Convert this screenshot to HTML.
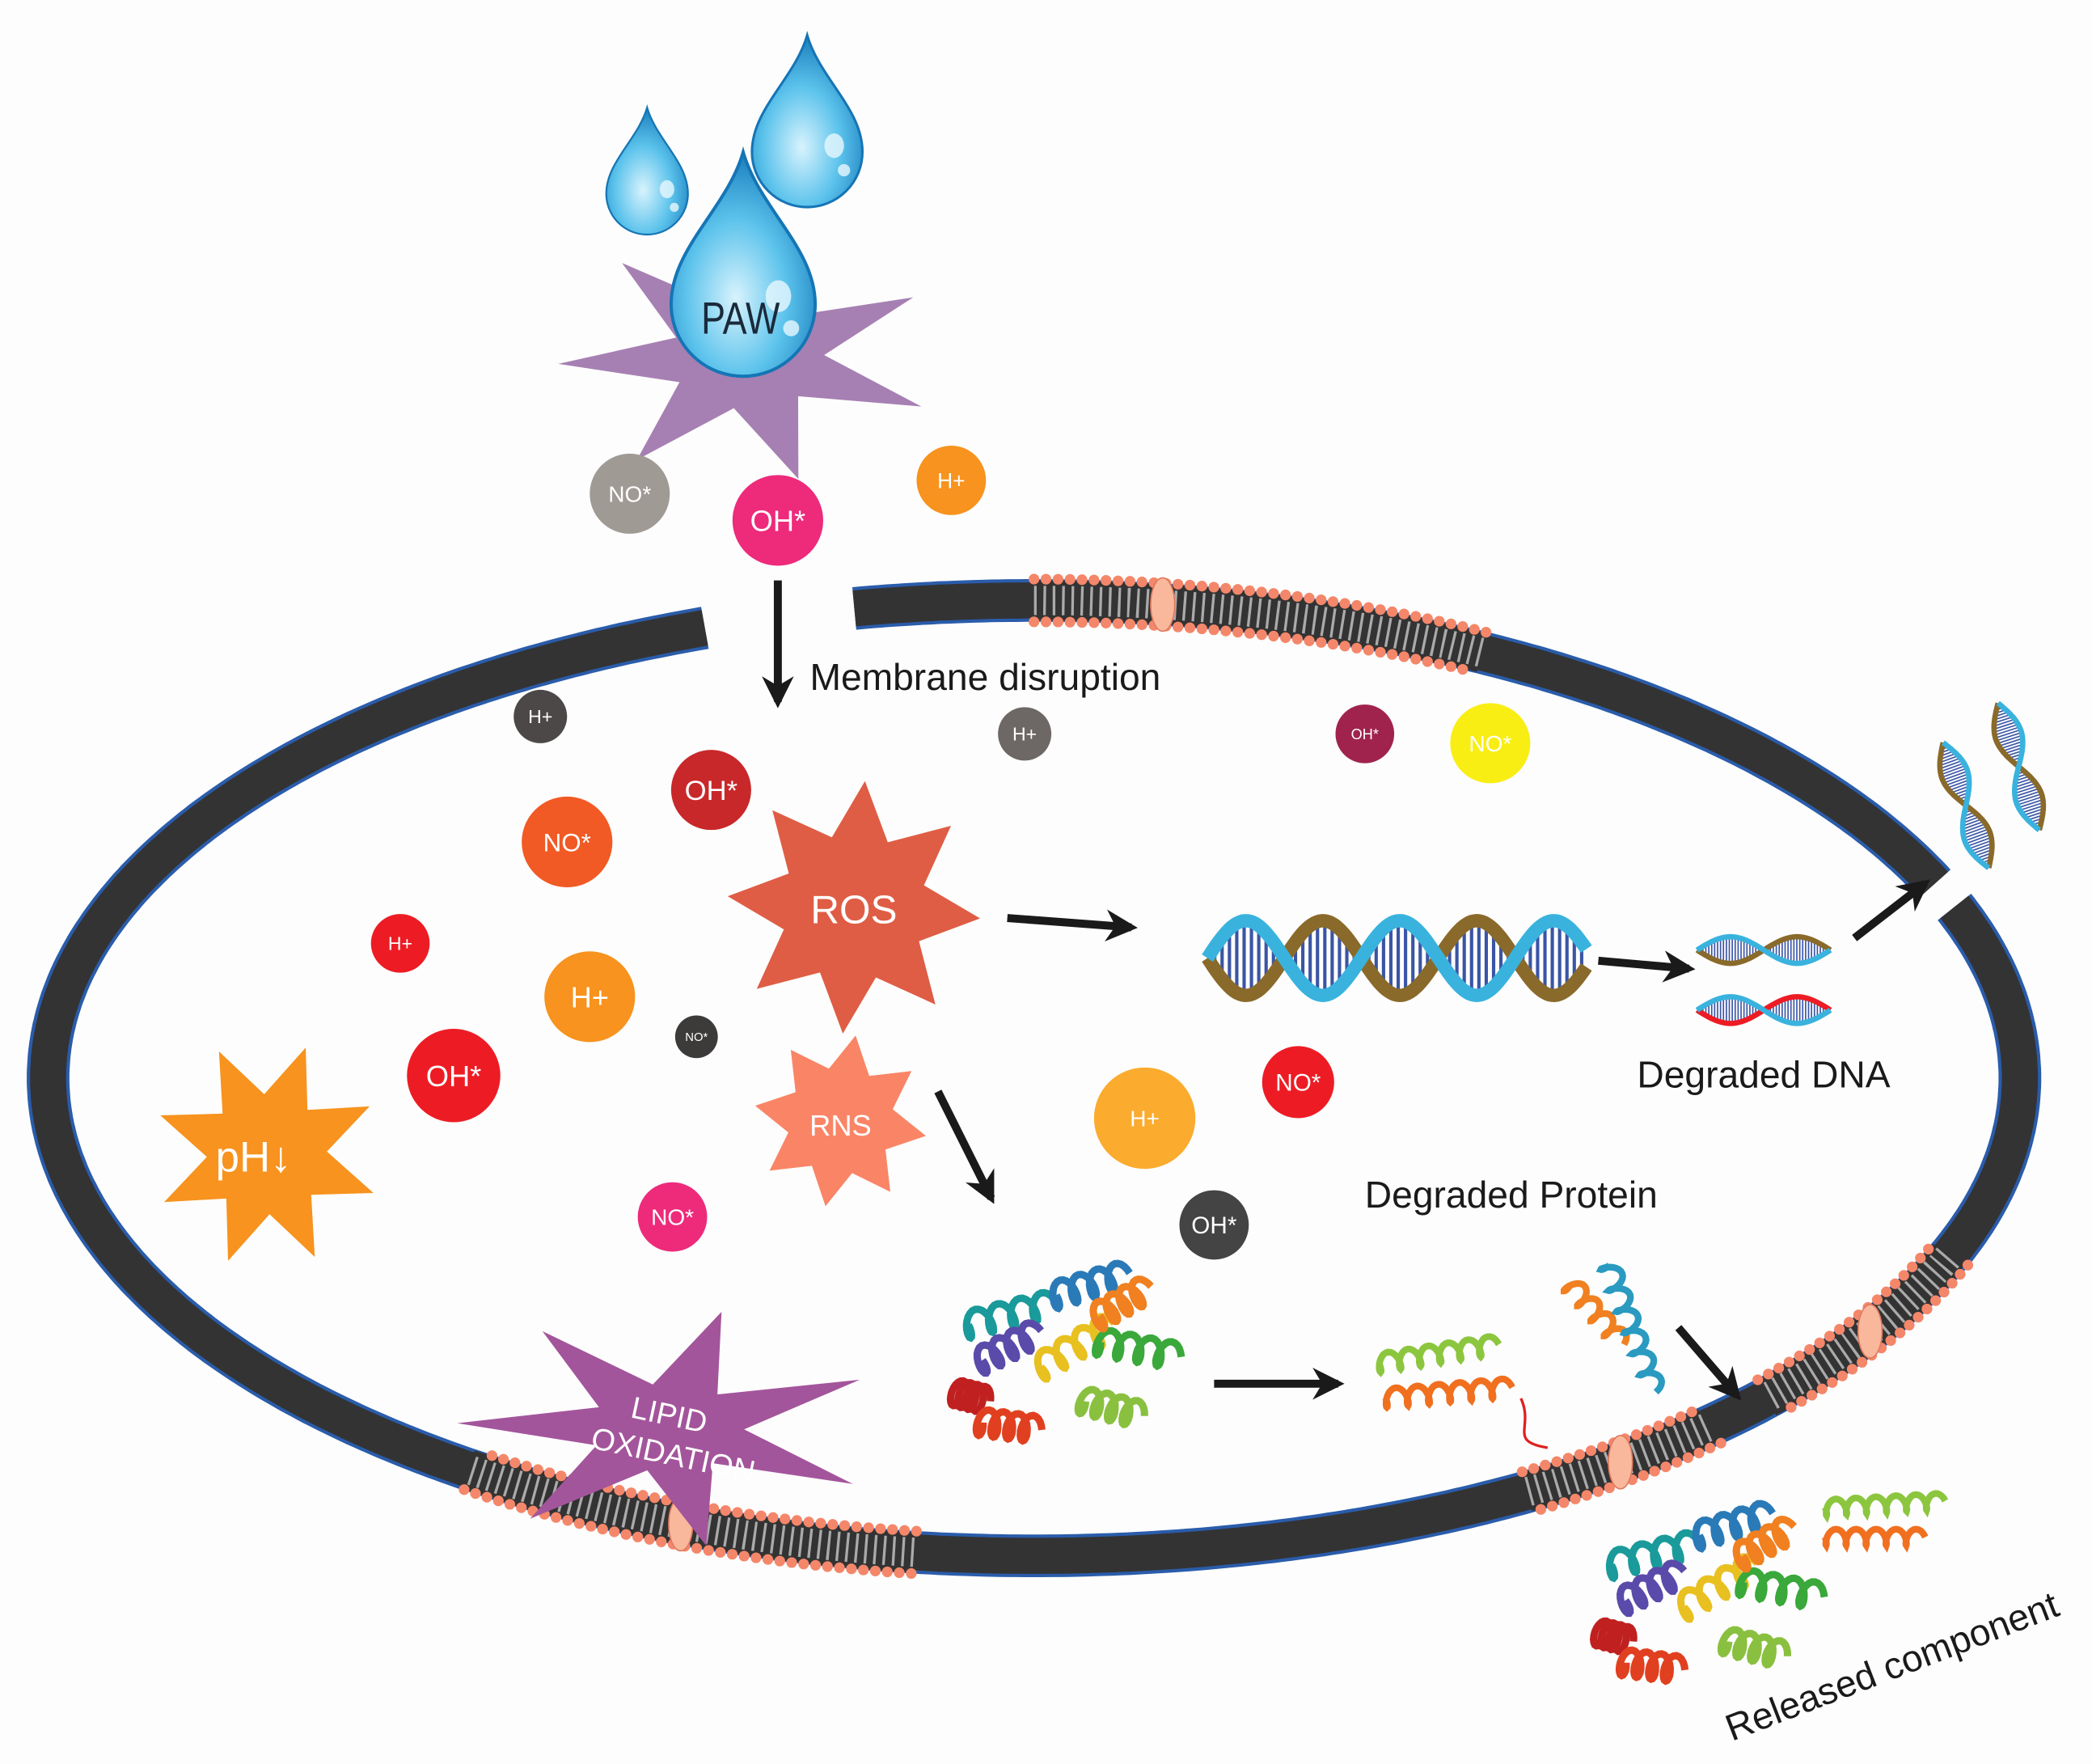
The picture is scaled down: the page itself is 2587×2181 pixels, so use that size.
<!DOCTYPE html>
<html><head><meta charset="utf-8"><style>
html,body{margin:0;padding:0;background:#fdfdfd;}
svg{display:block;}
text{font-family:"Liberation Sans",sans-serif;}
</style></head><body>
<svg id="s" width="2587" height="2181" viewBox="0 0 1568 1322" xmlns="http://www.w3.org/2000/svg">
<defs>
<radialGradient id="dg" cx="0.45" cy="0.65" r="0.7">
<stop offset="0" stop-color="#d8f3fd"/><stop offset="0.5" stop-color="#5cc3ec"/><stop offset="1" stop-color="#0f72b5"/>
</radialGradient>
<marker id="ah" viewBox="0 0 10 10" refX="8" refY="5" markerWidth="4" markerHeight="4" orient="auto"><path d="M0,0 L10,5 L0,10 L3,5 Z" fill="#1a1a1a"/></marker>
</defs>
<rect width="1568" height="1322" fill="#fdfdfd"/>
<g id="mem"></g>
<g id="stars"></g>
<g id="drops"></g>
<g id="circ"></g>
<g id="dna"></g>
<g id="prot"></g>
<g stroke="#1a1a1a" stroke-width="6" fill="none" marker-end="url(#ah)">
<line x1="583" y1="435" x2="583" y2="526"/>
<line x1="755" y1="688" x2="848" y2="695"/>
<line x1="703" y1="818" x2="743" y2="898"/>
<line x1="1198" y1="720" x2="1266" y2="726"/>
<line x1="1390" y1="703" x2="1443" y2="662"/>
<line x1="910" y1="1037" x2="1003" y2="1037"/>
<line x1="1258" y1="995" x2="1302" y2="1046"/>
</g>
<g fill="#1a1a1a" font-size="28">
<text x="607" y="517">Membrane disruption</text>
<text x="1227" y="815">Degraded DNA</text>
<text x="1023" y="905">Degraded Protein</text>
<text x="1298" y="1305" transform="rotate(-21 1298 1305)">Released component</text>
</g>
<g fill="#fff">
<text x="640" y="692" font-size="30" text-anchor="middle">ROS</text>
<text x="630" y="851" font-size="22" text-anchor="middle">RNS</text>
<text x="190" y="878" font-size="32" text-anchor="middle">pH↓</text>
<text x="500" y="1068" font-size="23" text-anchor="middle" transform="rotate(12 500 1068)">LIPID</text>
<text x="503" y="1098" font-size="23" text-anchor="middle" transform="rotate(12 503 1098)">OXIDATION</text>
</g>
<text x="555" y="250" font-size="34" fill="#1a2a3a" text-anchor="middle" transform="scale(0.8 1) translate(138.75 0)">PAW</text>
</svg>
<script>
const NS="http://www.w3.org/2000/svg";
function el(p,t,a){const e=document.createElementNS(NS,t);for(const k in a)e.setAttribute(k,a[k]);p.appendChild(e);return e;}
const cx=775,cy=808,rx=739,ry=358;
function pt(th,d){th=th*Math.PI/180;return[cx+(rx+d)*Math.cos(th),cy+(ry+d)*Math.sin(th)];}
function arc(a,b,d){let s="";for(let t=a;t<=b+0.001;t+=0.5){const p=pt(t,d);s+=(s?"L":"M")+p[0].toFixed(1)+","+p[1].toFixed(1);}return s;}
const mem=document.getElementById("mem");
[[-100.5,-24],[-21,250.6]].forEach(r=>{
el(mem,"path",{d:arc(r[0],r[1],0),stroke:"#2a5caa","stroke-width":32,fill:"none"});
el(mem,"path",{d:arc(r[0],r[1],0),stroke:"#333","stroke-width":27,fill:"none"});
});
[[-90,-63],[97,125],[47,60],[22,42]].forEach(r=>{
el(mem,"path",{d:arc(r[0],r[1],0),stroke:"#333","stroke-width":30,fill:"none"});
el(mem,"path",{d:arc(r[0],r[1],0),stroke:"#aaa","stroke-width":22,fill:"none","stroke-dasharray":"2 5"});
el(mem,"path",{d:arc(r[0],r[1],16),stroke:"#f4876a","stroke-width":8,fill:"none","stroke-dasharray":"0 9","stroke-linecap":"round"});
el(mem,"path",{d:arc(r[0],r[1],-16),stroke:"#f4876a","stroke-width":8,fill:"none","stroke-dasharray":"0 9","stroke-linecap":"round"});
const m=pt((r[0]+r[1])/2+ (r[0]==-90?-6:0),0);
el(mem,"ellipse",{cx:m[0],cy:m[1],rx:9,ry:20,fill:"#f9b89c",stroke:"#e07a5f"});
});
function star(x,y,n,ro,ri,c,rot,sx,sy){sx=sx||1;sy=sy||1;let s="";for(let i=0;i<2*n;i++){const r=i%2?ri:ro;const a=(rot||0)*Math.PI/180+i*Math.PI/n-Math.PI/2;s+=(x+r*Math.cos(a)*sx).toFixed(1)+","+(y+r*Math.sin(a)*sy).toFixed(1)+" ";}el(document.getElementById("stars"),"polygon",{points:s,fill:c});}
star(560,268,7,135,55,"#a680b3",10,1.05,0.7);
star(640,680,8,95,55,"#df5d45",5);
star(630,840,8,65,40,"#f98566",10);
star(200,865,8,85,45,"#f7931e",20);
star(500,1070,7,150,55,"#a3559b",15,1.05,0.6);
const dr=document.getElementById("drops");
function drop(x,y,s){const g=el(dr,"g",{transform:`translate(${x},${y}) scale(${s})`});
el(g,"path",{d:"M0,-80 C10,-45 45,-20 45,15 A45,45 0 0 1 -45,15 C-45,-20 -10,-45 0,-80 Z",fill:"url(#dg)",stroke:"#1575b5","stroke-width":2});
el(g,"ellipse",{cx:22,cy:10,rx:8,ry:10,fill:"#e9f8fe",opacity:0.8});el(g,"circle",{cx:30,cy:30,r:5,fill:"#e9f8fe",opacity:0.8});}
drop(485,135,0.68);drop(605,100,0.92);drop(557,210,1.2);
const C=[[472,370,30,"#a09a95","NO*",17],[583,390,34,"#ee2a7b","OH*",22],[713,360,26,"#f7931e","H+",16],[405,537,20,"#4d4848","H+",14],[768,550,20,"#6d6865","H+",14],[1023,550,22,"#a0234e","OH*",11],[1117,557,30,"#f9ee13","NO*",17],[533,592,30,"#c8282a","OH*",21],[425,631,34,"#f15a24","NO*",19],[300,707,22,"#ed1c24","H+",14],[442,747,34,"#f7931e","H+",22],[522,777,16,"#3d3a3a","NO*",9],[340,806,35,"#ed1c24","OH*",22],[973,811,27,"#ed1c24","NO*",18],[858,838,38,"#fbab2e","H+",17],[910,918,26,"#444","OH*",18],[504,912,26,"#ee2a7b","NO*",17]];
const cg=document.getElementById("circ");
C.forEach(c=>{el(cg,"circle",{cx:c[0],cy:c[1],r:c[2],fill:c[3]});const t=el(cg,"text",{x:c[0],y:c[1]+c[5]*0.36,"font-size":c[5],fill:"#fff","text-anchor":"middle"});t.textContent=c[4];});
const dg=document.getElementById("dna");
function helix(x1,x2,y,A,w,cols,rot){const g=el(dg,"g",rot?{transform:rot}:{});const L=x2-x1,n=Math.max(1,L/150*1.3);
for(let x=x1;x<=x2;x+=w*2.2){const ph=(x-x1)/L*n*2*Math.PI;el(g,"line",{x1:x,y1:y+A*Math.sin(ph),x2:x,y2:y-A*Math.sin(ph),stroke:"#3a55a5","stroke-width":w});}
[0,Math.PI].forEach((o,k)=>{let s="";for(let x=x1;x<=x2;x+=2){const ph=(x-x1)/L*n*2*Math.PI+o;s+=(s?"L":"M")+x+","+(y+A*Math.sin(ph)).toFixed(1);}el(g,"path",{d:s,stroke:cols[k],"stroke-width":w*4,fill:"none"});});}
helix(905,1190,718,28,2.5,["#8a6a2a","#39b3de"]);
helix(1272,1372,712,10,1,["#8a6a2a","#39b3de"]);
helix(1272,1372,757,10,1,["#ed1c24","#39b3de"]);
helix(1440,1540,580,10,1,["#8a6a2a","#39b3de"],"rotate(70 1465 580)");
helix(1470,1570,565,10,1,["#8a6a2a","#39b3de"],"rotate(72 1510 565)");
const pg=document.getElementById("prot");
function coil(x1,y1,x2,y2,n,a,c,w){const dx=x2-x1,dy=y2-y1,L=Math.hypot(dx,dy),ux=dx/L,uy=dy/L;let s="";for(let i=0;i<=n*20;i++){const t=i/(n*20),ph=t*n*2*Math.PI;const x=x1+dx*t+(-uy)*a*Math.sin(ph)+ux*a*0.5*Math.cos(ph),y=y1+dy*t+ux*a*Math.sin(ph)+uy*a*0.5*Math.cos(ph);s+=(s?"L":"M")+x.toFixed(1)+","+y.toFixed(1);}el(pg,"path",{d:s,stroke:c,"stroke-width":w||5,fill:"none"});}
function protein(ox,oy,s){const H=[[-70,-10,-10,-25,"#1a9a9a"],[-60,15,-20,-5,"#5a4aaa"],[-10,-30,40,-45,"#2a7ab8"],[-20,20,30,-10,"#e8c020"],[20,0,75,10,"#3aa83a"],[-75,35,-55,40,"#c02020"],[-60,55,-20,60,"#e04020"],[10,40,50,50,"#8ac040"],[20,-15,55,-35,"#f08020"]];
H.forEach(h=>coil(ox+h[0]*s,oy+h[1]*s,ox+h[2]*s,oy+h[3]*s,4,9*s,h[4],5*s));}
protein(798,1005,1.1);protein(1280,1185,1.1);
coil(1030,1022,1120,1008,6,7,"#8cc63f",5);coil(1035,1048,1130,1040,6,7,"#f07020",5);
coil(1175,960,1215,1005,4,7,"#f08020",5);coil(1205,945,1240,1040,6,7,"#2a9ac0",5);
coil(1365,1130,1455,1125,6,6,"#8cc63f",5);coil(1365,1152,1440,1152,5,6,"#f07020",5);
el(pg,"path",{d:"M1140,1048 C1150,1070 1130,1080 1160,1085",stroke:"#e02020","stroke-width":2,fill:"none"});
</script>
</body></html>
